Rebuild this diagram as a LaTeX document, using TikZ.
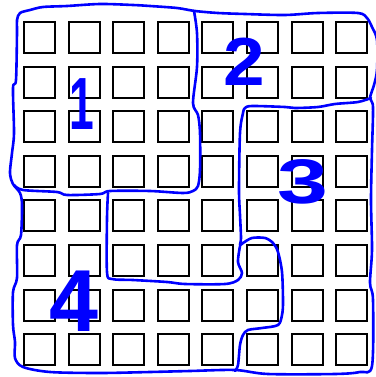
\documentclass[tikz,border=0pt]{standalone}
\usepackage{fontspec}
\setmainfont{Liberation Sans}
\usetikzlibrary{positioning}

\begin{document}
\begin{tikzpicture}[
    x=1pt, y=-1pt,
    cell/.style={
        rectangle,
        draw=black,
        line width=2pt,
        minimum size=31pt,
        inner sep=0pt
    },
    border/.style={draw=blue, line width=2.6pt, line join=round, line cap=round},
    regionlabel/.style={text=blue, inner sep=0pt}
]

\useasboundingbox (0,0) rectangle (375,377);

% GRID
\foreach \i in {0,...,7}
    \foreach \j in {0,...,7}
        \node[cell] (c\i\j) at ({39.5+44.6*\i}, {37.5+44.6*\j}) {};

% OUTER BORDER
\draw[border] plot[smooth cycle, tension=0.5] coordinates {
    (195,11) (177,8) (150,6) (133,5) (100,4) (67,6) (43,7) (30,10) (20,13)
    (17,20) (17,33) (16,80) (13,88) (14,133) (12,153) (10,173) (13,184)
    (20,193) (22,205) (21,235) (17,245) (17,278) (13,292) (13,325) (15,342)
    (15,358) (23,367) (50,372) (100,373) (150,372) (190,371) (235,370)
    (268,374) (335,374) (360,372) (372,366) (373,300) (370,283) (372,250)
    (371,200) (372,150) (373,107) (370,98) (374,85) (377,70) (377,40)
    (372,27) (367,18) (358,13) (318,13) (285,15) (245,14) (218,13)
};

% BORDER 1 / 2 / 4
\draw[border] plot[smooth, tension=0.5] coordinates {
    (194,11) (197,33) (197,67) (193,103) (198,115) (200,133) (200,170)
    (198,186) (193,191) (183,193) (150,191) (110,191) (100,194) (67,195)
    (57,192) (23,190) (14,185)
};

% BORDER 2 / 3
\draw[border] plot[smooth, tension=0.5] coordinates {
    (371,98) (358,102) (335,104) (318,107) (295,108) (285,107) (252,106)
    (245,108) (243,113) (240,133) (239,190) (240,215) (241,238) (240,245)
    (243,243) (252,238) (265,238) (273,243) (278,252) (282,272) (283,302)
    (282,315) (278,325) (262,328) (248,330) (243,335) (240,345) (238,365)
    (235,371)
};

% BORDER 2 / 4
\draw[border] plot[smooth, tension=0.5] coordinates {
    (240,246) (238,262) (242,273) (238,280) (225,284) (185,284) (167,282)
    (133,280) (112,279) (107,272) (107,218) (108,193)
};

% REGION LABELS
\node[regionlabel, font=\bfseries\fontsize{74}{74}\selectfont] (lab1) at (82,104) {\scalebox{0.6}[1]{1}};
\node[regionlabel, font=\bfseries\fontsize{68}{68}\selectfont] (lab2) at (244,62) {\scalebox{1.1}[1]{2}};
\node[regionlabel, font=\bfseries\fontsize{63}{63}\selectfont] (lab3) at (303,182) {\scalebox{1.45}[1]{3}};
\node[regionlabel, font=\bfseries\fontsize{88}{88}\selectfont] (lab4) at (74,301) {4};

\end{tikzpicture}
\end{document}
